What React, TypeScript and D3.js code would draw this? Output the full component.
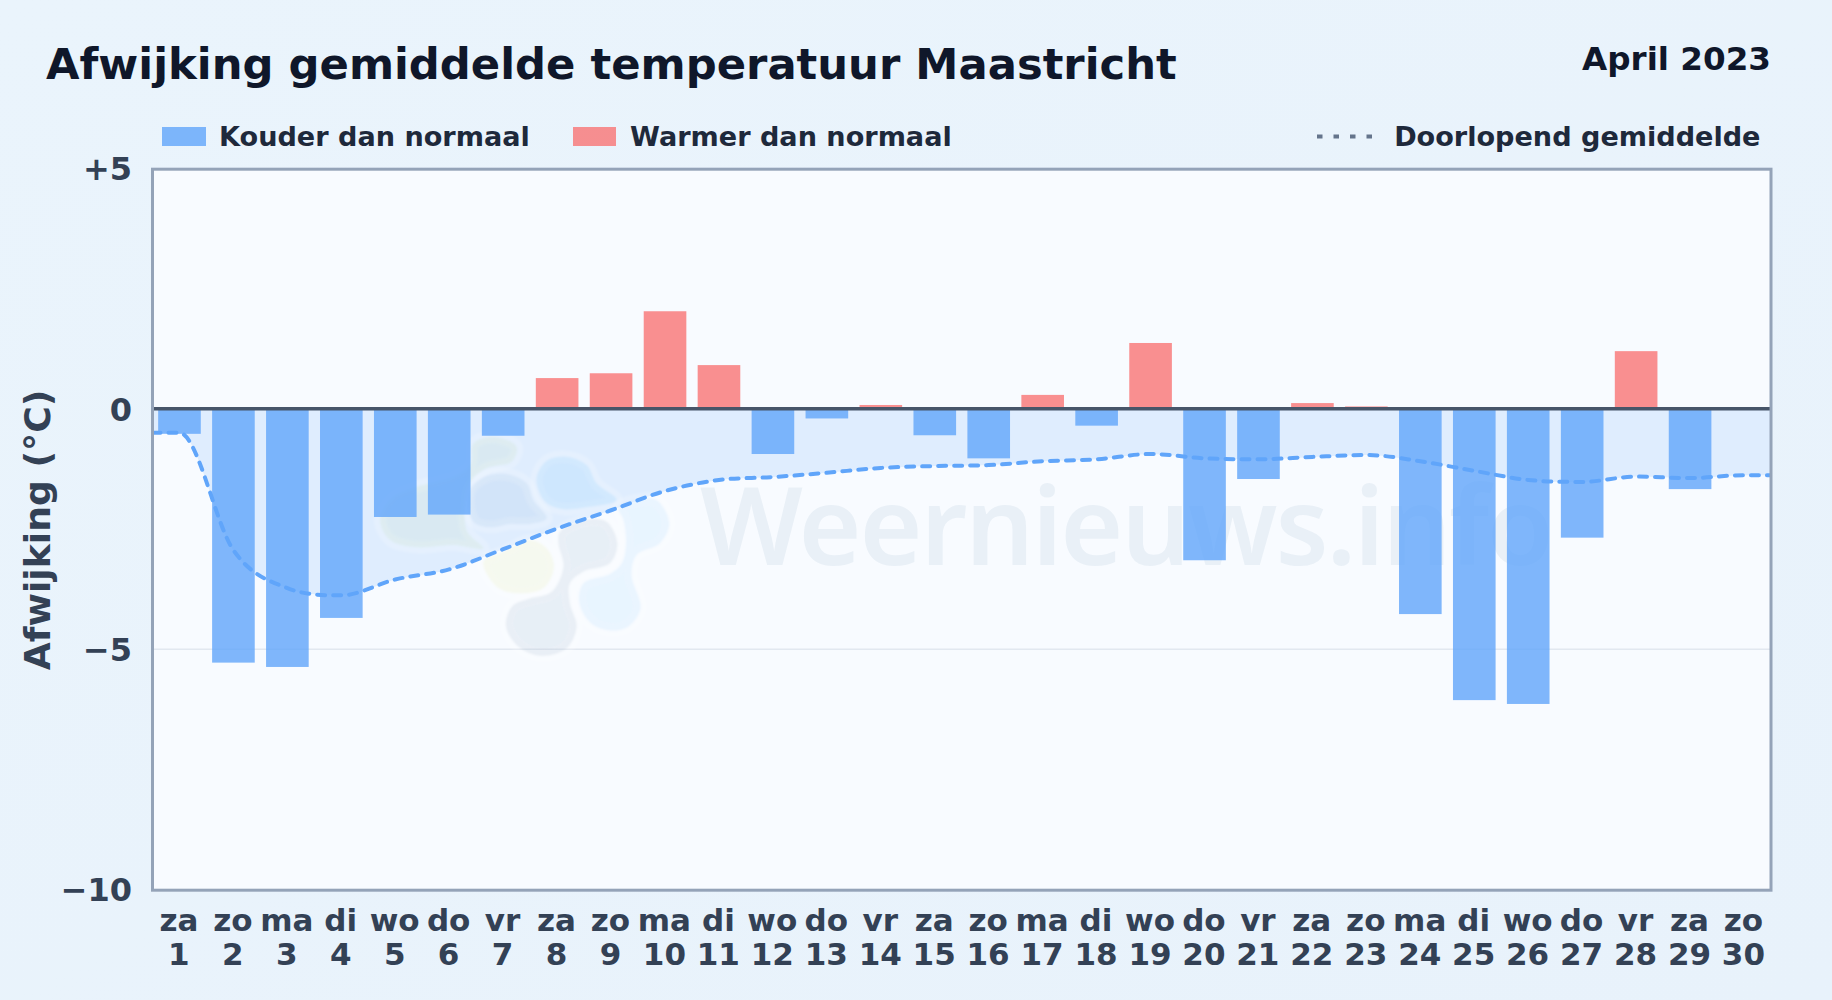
import React from "react";
import * as d3 from "d3";

const WIDTH = 1832;
const HEIGHT = 1000;

const weekdays = ["za","zo","ma","di","wo","do","vr","za","zo","ma","di","wo","do","vr","za","zo","ma","di","wo","do","vr","za","zo","ma","di","wo","do","vr","za","zo"];
const dayNumbers = d3.range(1, 31);
const anomalies: (number | null)[] = [-0.52,-5.28,-5.37,-4.35,-2.25,-2.2,-0.56,0.64,0.74,2.03,0.91,-0.94,-0.2,0.08,-0.55,-1.03,0.29,-0.35,1.37,-3.15,-1.46,0.12,0.05,-4.27,-6.06,-6.14,-2.68,1.2,-1.67,null];
const runningMean = [-0.5,-2.94,-3.73,-3.88,-3.55,-3.34,-2.92,-2.49,-2.11,-1.71,-1.48,-1.42,-1.33,-1.23,-1.19,-1.17,-1.09,-1.05,-0.94,-1.03,-1.05,-1.0,-0.96,-1.09,-1.29,-1.48,-1.52,-1.41,-1.44,-1.38];
const yTicks = [5, 0, -5, -10];
const yTickLabels = ["+5", "0", "−5", "−10"];

const FONT = "'DejaVu Sans', sans-serif";
const BLUE = "rgba(96,165,250,0.8)";
const RED = "rgba(248,113,113,0.78)";

const margin = { left: 152.5, right: 61, top: 168.5, bottom: 110.5 };
const plotRight = WIDTH - margin.right;
const plotBottom = HEIGHT - margin.bottom;
const frameShift = 0.7;

const x = d3.scaleBand<number>().domain(dayNumbers).range([margin.left, plotRight]).paddingInner(0.21).paddingOuter(0.105);
const y = d3.scaleLinear().domain([-10, 5]).range([plotBottom, margin.top]);
const cx = (d: number) => (x(d) as number) + x.bandwidth() / 2;

type P = [number, number];
const linePoints: P[] = [
  [margin.left, runningMean[0]],
  ...runningMean.map((v, i) => [cx(dayNumbers[i]), v] as P),
  [plotRight, runningMean[runningMean.length - 1]],
];

// Monotone cubic (Fritsch-Carlson with averaged secants), drawn through d3.path
function monotonePath(values: P[], closeToZero: boolean): string {
  const pts = values.map((d) => [d[0], y(d[1])]);
  const n = pts.length;
  const h = d3.range(n - 1).map((i) => pts[i + 1][0] - pts[i][0]);
  const s = d3.range(n - 1).map((i) => (pts[i + 1][1] - pts[i][1]) / h[i]);
  const m = pts.map((_, i) => {
    if (i === 0) return s[0];
    if (i === n - 1) return s[n - 2];
    return s[i - 1] * s[i] <= 0 ? 0 : (s[i - 1] + s[i]) / 2;
  });
  for (let i = 0; i < n - 1; i++) {
    if (s[i] === 0) { m[i] = 0; m[i + 1] = 0; continue; }
    const a = m[i] / s[i];
    const b = m[i + 1] / s[i];
    const r = a * a + b * b;
    if (r > 9) {
      const t = 3 / Math.sqrt(r);
      m[i] = t * a * s[i];
      m[i + 1] = t * b * s[i];
    }
  }
  const p = d3.path();
  p.moveTo(pts[0][0], pts[0][1]);
  for (let i = 0; i < n - 1; i++) {
    const d = h[i] / 3;
    p.bezierCurveTo(pts[i][0] + d, pts[i][1] + m[i] * d, pts[i + 1][0] - d, pts[i + 1][1] - m[i + 1] * d, pts[i + 1][0], pts[i + 1][1]);
  }
  if (closeToZero) {
    p.lineTo(pts[n - 1][0], y(0));
    p.lineTo(pts[0][0], y(0));
    p.closePath();
  }
  return p.toString();
}

// Watermark logo outlines, in zoomed crop units
const blobOutlines: { pts: P[]; fill: string }[] = [
  { fill: "rgba(150,195,110,0.09)", pts: [[30,300],[65,235],[140,200],[250,170],[300,135],[310,70],[370,50],[440,80],[425,125],[350,145],[300,190],[290,330],[340,385],[250,375],[140,382],[60,360]] },
  { fill: "rgba(90,140,200,0.09)", pts: [[297,215],[340,172],[410,162],[470,190],[490,240],[530,295],[480,312],[420,312],[360,322],[310,305]] },
  { fill: "rgba(100,190,255,0.14)", pts: [[500,170],[530,122],[590,110],[650,135],[680,190],[740,240],[650,262],[580,268],[530,250],[505,210]] },
  { fill: "rgba(100,190,255,0.1)", pts: [[745,262],[800,240],[860,240],[898,310],[870,370],[800,405],[785,465],[812,565],[775,620],[725,632],[665,612],[628,550],[640,490],[720,462],[755,430],[768,370],[760,300]] },
  { fill: "rgba(70,110,150,0.09)", pts: [[570,335],[650,298],[710,305],[742,370],[720,430],[640,455],[600,490],[600,550],[620,620],[590,685],[515,708],[445,680],[408,620],[425,560],[480,535],[545,515],[580,440],[565,370]] },
  { fill: "rgba(225,235,130,0.13)", pts: [[340,425],[400,395],[480,360],[530,385],[552,440],[520,505],[440,520],[380,500]] },
];
const blobPath = d3.line<P>().x((d) => 370 + d[0] / 3).y((d) => 420 + d[1] / 3).curve(d3.curveCatmullRomClosed.alpha(0.5));

export default function App() {
  return (
    <svg width={WIDTH} height={HEIGHT} viewBox={`0 0 ${WIDTH} ${HEIGHT}`} style={{ position: "absolute", left: 0, top: 0, display: "block" }} fontFamily={FONT}>
      <defs>
        <linearGradient id="pageBg" x1="0" y1="0" x2="1" y2="1">
          <stop offset="0" stopColor="#eaf4fc" />
          <stop offset="1" stopColor="#e8f2fb" />
        </linearGradient>
        <clipPath id="plotClip">
          <rect x={margin.left} y={margin.top + frameShift} width={plotRight - margin.left} height={plotBottom - margin.top} />
        </clipPath>
        <filter id="soft" x="-10%" y="-10%" width="120%" height="120%">
          <feGaussianBlur stdDeviation="1.2" />
        </filter>
      </defs>
      <rect width={WIDTH} height={HEIGHT} fill="url(#pageBg)" />

      <text x={46} y={79} fontSize={43.3} fontWeight={700} fill="#0f172a">Afwijking gemiddelde temperatuur Maastricht</text>
      <text x={1771} y={70} fontSize={32.6} fontWeight={700} fill="#0f172a" textAnchor="end">April 2023</text>

      <rect x={162} y={127} width={44} height={19} fill={BLUE} />
      <text x={219} y={146} fontSize={27.1} fontWeight={700} fill="#1e293b">Kouder dan normaal</text>
      <rect x={573} y={127} width={43} height={19} fill={RED} />
      <text x={630} y={146} fontSize={27.1} fontWeight={700} fill="#1e293b">Warmer dan normaal</text>
      <line x1={1317} x2={1375} y1={136.5} y2={136.5} stroke="#64748b" strokeWidth={4} strokeDasharray="5.5 11" />
      <text x={1760.5} y={146} fontSize={27.1} fontWeight={700} fill="#1e293b" textAnchor="end">Doorlopend gemiddelde</text>

      <rect x={margin.left} y={margin.top + frameShift} width={plotRight - margin.left} height={plotBottom - margin.top} fill="#f8fbff" />

      <g clipPath="url(#plotClip)">
        <path d={monotonePath(linePoints, true)} fill="rgba(96,165,250,0.16)" />
        <line x1={margin.left} x2={plotRight} y1={y(-5)} y2={y(-5)} stroke="#e2e8f0" strokeWidth={1.5} />
        <g filter="url(#soft)">
          {blobOutlines.map((b, i) => (
            <path key={`h${i}`} d={blobPath(b.pts) as string} fill="none" stroke="rgba(255,255,255,0.18)" strokeWidth={12} strokeLinejoin="round" />
          ))}
          {blobOutlines.map((b, i) => (
            <path key={`b${i}`} d={blobPath(b.pts) as string} fill={b.fill} />
          ))}
        </g>
        <text x={700} y={565} fontFamily="'Noto Sans', sans-serif" fontWeight={600} fontSize={108} letterSpacing={-2.2} fill="rgba(51,105,150,0.075)">Weernieuws.info</text>
      </g>

      {anomalies.map((v, i) =>
        v === null ? null : (
          <rect key={i} x={x(dayNumbers[i])} width={x.bandwidth()} y={y(Math.max(0, v))} height={Math.abs(y(v) - y(0))} fill={v < 0 ? BLUE : RED} />
        )
      )}

      <path d={monotonePath(linePoints, false)} fill="none" stroke="#60a5fa" strokeWidth={4} strokeLinecap="round" strokeDasharray="8 8" clipPath="url(#plotClip)" />

      <line x1={margin.left} x2={plotRight} y1={y(0)} y2={y(0)} stroke="#475569" strokeWidth={3.5} />
      <rect x={margin.left} y={margin.top + frameShift} width={plotRight - margin.left} height={plotBottom - margin.top} fill="none" stroke="#94a3b8" strokeWidth={3} />

      {yTicks.map((t, i) => (
        <text key={t} x={132} y={y(t) + 11.8} fontSize={32} fontWeight={700} fill="#334155" textAnchor="end">{yTickLabels[i]}</text>
      ))}
      <text transform={`translate(50,530) rotate(-90)`} fontSize={36.2} fontWeight={700} fill="#334155" textAnchor="middle">Afwijking (°C)</text>

      {dayNumbers.map((d, i) => (
        <g key={d} fontSize={31} fontWeight={700} fill="#334155" textAnchor="middle">
          <text x={cx(d) - 0.6} y={931}>{weekdays[i]}</text>
          <text x={cx(d) - 0.6} y={965}>{d}</text>
        </g>
      ))}
    </svg>
  );
}
